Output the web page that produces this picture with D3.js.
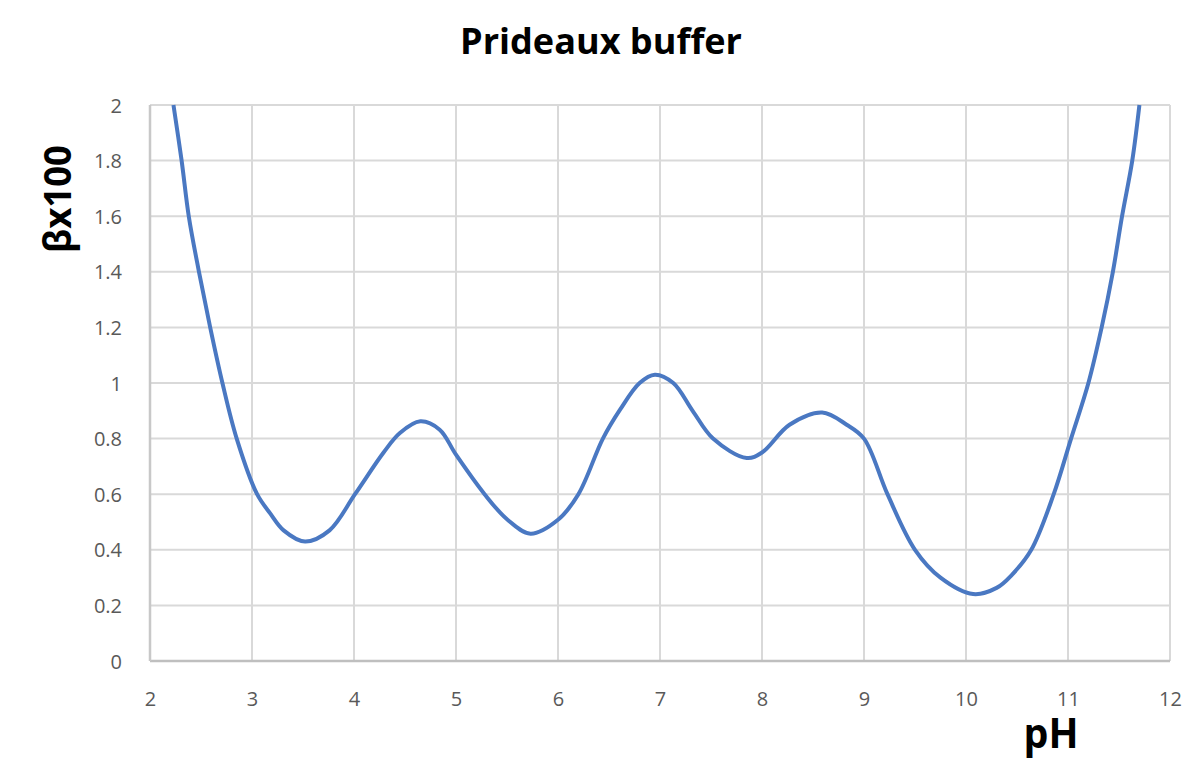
<!DOCTYPE html>
<html>
<head>
<meta charset="utf-8">
<script src="https://cdn.jsdelivr.net/npm/d3@7"></script>
<style>
  body { margin: 0; background: #fff; }
  svg { display: block; }
</style>
</head>
<body>
<div id="chart"></div>
<script>
// values
var phValues = [2.23, 2.31, 2.38, 2.48, 2.59, 2.71, 2.85, 3.05, 3.18, 3.31, 3.52, 3.76, 4.01, 4.29, 4.45, 4.65, 4.84, 5.0, 5.28, 5.5, 5.73, 6.0, 6.2, 6.44, 6.61, 6.8, 6.95, 7.13, 7.32, 7.52, 7.85, 8.0, 8.27, 8.59, 8.83, 9.0, 9.23, 9.5, 9.75, 10.07, 10.3, 10.45, 10.64, 10.86, 11.03, 11.2, 11.33, 11.44, 11.53, 11.63, 11.7];
var betaValues = [2.0, 1.8, 1.6, 1.4, 1.2, 1.0, 0.8, 0.6, 0.53, 0.47, 0.43, 0.47, 0.6, 0.75, 0.82, 0.862, 0.832, 0.742, 0.6, 0.51, 0.458, 0.508, 0.6, 0.8, 0.905, 1.0, 1.03, 1.0, 0.9, 0.8, 0.73, 0.75, 0.85, 0.894, 0.85, 0.8, 0.6, 0.4, 0.3, 0.241, 0.263, 0.31, 0.4, 0.6, 0.8, 1.0, 1.2, 1.4, 1.6, 1.8, 2.0];
var xTicks = [2, 3, 4, 5, 6, 7, 8, 9, 10, 11, 12];
var yTicks = [0, 0.2, 0.4, 0.6, 0.8, 1, 1.2, 1.4, 1.6, 1.8, 2];

var width = 1200,
    height = 778;

var x = d3.scaleLinear().domain([2, 12]).range([150, 1170]);
var y = d3.scaleLinear().domain([0, 2]).range([661, 105]);

var svg = d3.select("#chart").append("svg")
    .attr("width", width)
    .attr("height", height);

// grid
svg.append("g")
    .selectAll("line.hgrid")
    .data(yTicks)
    .enter()
    .append("line")
    .attr("x1", x(2))
    .attr("x2", x(12))
    .attr("y1", function (d) { return y(d); })
    .attr("y2", function (d) { return y(d); })
    .attr("stroke", "#d9d9d9")
    .attr("stroke-width", 2);

svg.append("g")
    .selectAll("line.vgrid")
    .data(xTicks)
    .enter()
    .append("line")
    .attr("x1", function (d) { return x(d); })
    .attr("x2", function (d) { return x(d); })
    .attr("y1", y(0))
    .attr("y2", y(2))
    .attr("stroke", "#d9d9d9")
    .attr("stroke-width", 2);

// axis lines
svg.append("line")
    .attr("x1", x(2)).attr("x2", x(12))
    .attr("y1", y(0)).attr("y2", y(0))
    .attr("stroke", "#bfbfbf")
    .attr("stroke-width", 2.5);
svg.append("line")
    .attr("x1", x(2)).attr("x2", x(2))
    .attr("y1", y(0)).attr("y2", y(2))
    .attr("stroke", "#c8c8c8")
    .attr("stroke-width", 2.5);

// tick labels
var xAxis = svg.append("g")
    .attr("transform", "translate(0," + 706 + ")")
    .call(d3.axisBottom(x).tickValues(xTicks).tickSize(0).tickPadding(0).tickFormat(d3.format("d")));
xAxis.select(".domain").remove();
xAxis.selectAll("text")
    .attr("dy", 0)
    .attr("y", 0)
    .attr("fill", "#595959")
    .style("font-family", "'Open Sans', sans-serif")
    .style("font-size", "20px");

var yAxis = svg.append("g")
    .attr("transform", "translate(" + 122 + ",0)")
    .call(d3.axisLeft(y).tickValues(yTicks).tickSize(0).tickPadding(0).tickFormat(function (d) { return String(d); }));
yAxis.select(".domain").remove();
yAxis.selectAll("text")
    .attr("dy", "0.35em")
    .attr("x", 0)
    .attr("fill", "#595959")
    .style("font-family", "'Open Sans', sans-serif")
    .style("font-size", "20px");

// curve
var points = phValues.map(function (d, i) { return [d, betaValues[i]]; });

var line = d3.line()
    .x(function (d) { return x(d[0]); })
    .y(function (d) { return y(d[1]); })
    .curve(d3.curveCatmullRom.alpha(0.5));

svg.append("path")
    .datum(points)
    .attr("d", line)
    .attr("fill", "none")
    .attr("stroke", "#4a78c2")
    .attr("stroke-width", 4)
    .attr("stroke-linejoin", "round");

// titles
svg.append("text")
    .attr("x", 601)
    .attr("y", 54)
    .attr("text-anchor", "middle")
    .attr("textLength", 282)
    .attr("lengthAdjust", "spacingAndGlyphs")
    .style("font-family", "'Open Sans', sans-serif")
    .style("font-weight", "bold")
    .style("font-size", "35px")
    .text("Prideaux buffer");

svg.append("text")
    .attr("transform", "translate(71,199) rotate(-90)")
    .attr("text-anchor", "middle")
    .attr("textLength", 108)
    .attr("lengthAdjust", "spacingAndGlyphs")
    .style("font-family", "'Open Sans', sans-serif")
    .style("font-weight", "bold")
    .style("font-size", "38px")
    .text("βx100");

svg.append("text")
    .attr("x", 1051)
    .attr("y", 748)
    .attr("text-anchor", "middle")
    .attr("textLength", 55)
    .attr("lengthAdjust", "spacingAndGlyphs")
    .style("font-family", "'Open Sans', sans-serif")
    .style("font-weight", "bold")
    .style("font-size", "41px")
    .text("pH");
</script>
</body>
</html>
